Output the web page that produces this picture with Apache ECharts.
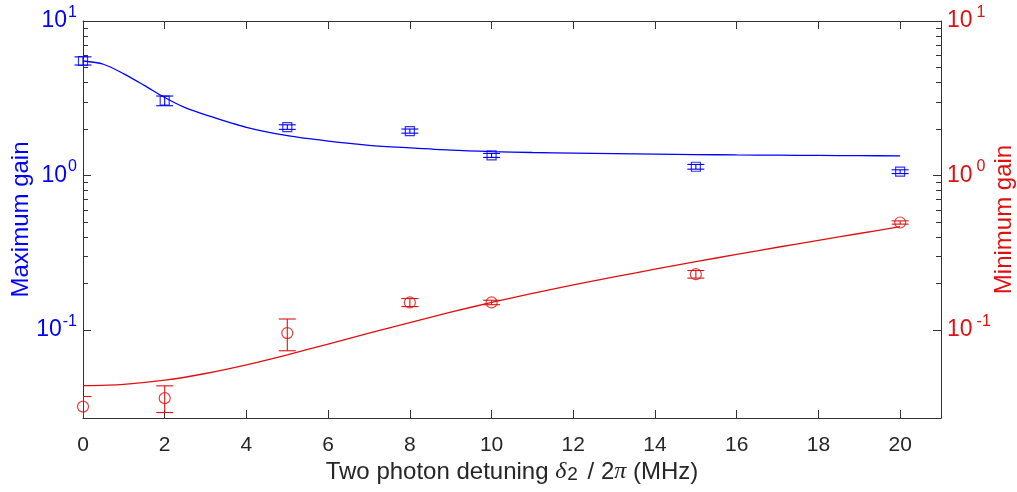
<!DOCTYPE html>
<html><head><meta charset="utf-8">
<script src="https://cdn.jsdelivr.net/npm/echarts@6/dist/echarts.min.js"></script>
<style>html,body{margin:0;padding:0;background:#fff}#c{width:1017px;height:492px}</style>
</head><body><div id="c"></div>
<script>
// ---- data ----
const detuning    = [0, 2, 5, 8, 10, 15, 20];
const maxGain     = [5.51, 3.05, 2.06, 1.94, 1.35, 1.14, 1.06];
const maxGainLow  = [5.19, 2.83, 1.99, 1.88, 1.31, 1.10, 1.03];
const maxGainHigh = [5.86, 3.27, 2.13, 2.00, 1.39, 1.18, 1.09];
const minGain     = [0.032, 0.0363, 0.0957, 0.151, 0.151, 0.230, 0.497];
const minGainLow  = [0.020, 0.0293, 0.0735, 0.142, 0.146, 0.217, 0.485];
const minGainHigh = [0.0372, 0.0436, 0.118, 0.160, 0.156, 0.243, 0.509];
const maxFitX = [0, 0.5, 1, 1.5, 2, 2.5, 3, 4, 5, 6, 7, 8, 9, 10, 11, 12, 13, 14, 15, 16, 17, 18, 19, 20];
const maxFit  = [5.51, 5.25, 4.55, 3.83, 3.20, 2.75, 2.47, 2.05, 1.81, 1.67, 1.57, 1.51, 1.46, 1.43, 1.41, 1.395, 1.385, 1.375, 1.367, 1.36, 1.355, 1.35, 1.345, 1.34];
const minFitX = [0, 1, 2, 3, 4, 5, 6, 7, 8, 9, 10, 11, 12, 13, 14, 15, 16, 17, 18, 19, 20];
const minFit  = [0.0437, 0.0446, 0.0474, 0.0524, 0.0596, 0.0692, 0.0813, 0.0955, 0.112, 0.1306, 0.151, 0.1726, 0.1959, 0.2208, 0.2477, 0.2773, 0.309, 0.3436, 0.381, 0.4217, 0.4667];
const xTicks = [0, 2, 4, 6, 8, 10, 12, 14, 16, 18, 20];
const yMajorTicks = [0.1, 1, 10];
const yMinorTicks = [0.2, 0.3, 0.4, 0.5, 0.6, 0.7, 0.8, 0.9, 2, 3, 4, 5, 6, 7, 8, 9];
const yRange = [0.027, 10];
const xRange = [0, 21];

const BLUE = '#0000ff', RED = '#e01010', AX = '#333333', TXT = '#262626';
const FONT = 'Liberation Sans, Arial, Helvetica, sans-serif';
const L = v => Math.log10(v);
const yMin = L(yRange[0]), yMax = L(yRange[1]);

function yAxisDef(pos, color, major, name) {
  const gap = pos === 'right' ? 4 : 1;
  const a = {
    type: 'value', position: pos, min: yMin, max: yMax,
    splitLine: { show: false },
    axisLine: { show: major, onZero: false, lineStyle: { color: AX, width: 1 } },
    axisTick: { show: true, inside: true, length: major ? 8 : 5,
      customValues: (major ? yMajorTicks : yMinorTicks).map(L),
      lineStyle: { color: AX, width: 1 } },
    axisLabel: { show: major, customValues: yMajorTicks.map(L), margin: 6,
      formatter: v => '{b|10}{s|' + Math.round(v) + '}',
      rich: {
        b: { fontSize: 23, lineHeight: 23, color: color, fontFamily: FONT, verticalAlign: 'bottom' },
        s: { fontSize: 16, lineHeight: 16, color: color, fontFamily: FONT, verticalAlign: 'bottom',
             padding: [0, 0, 12, gap] }
      } }
  };
  if (major) {
    a.name = name; a.nameLocation = 'middle'; a.nameRotate = 90; a.nameMoveOverlap = false;
    a.nameGap = pos === 'right' ? 51 : 50;
    a.nameTextStyle = { color: color, fontSize: 24, fontFamily: FONT };
  }
  return a;
}

function xAxisDef(pos, labels) {
  const a = {
    type: 'value', position: pos, min: xRange[0], max: xRange[1],
    splitLine: { show: false },
    axisLine: { show: true, onZero: false, lineStyle: { color: AX, width: 1 } },
    axisTick: { show: true, inside: true, length: 8, customValues: xTicks, lineStyle: { color: AX } },
    axisLabel: { show: labels, customValues: xTicks, margin: 17, fontSize: 21, color: TXT, fontFamily: FONT }
  };
  if (labels) {
    a.name = '{n|Two photon detuning }{i|δ}{sub|2}{n| / 2}{i|π}{n| (MHz)}';
    a.nameLocation = 'middle'; a.nameGap = 38; a.nameMoveOverlap = false;
    a.nameTextStyle = {
      rich: {
        n: { fontSize: 24, lineHeight: 28, color: TXT, fontFamily: FONT, verticalAlign: 'bottom' },
        i: { fontSize: 24, lineHeight: 28, color: TXT, fontFamily: 'Liberation Serif, Times New Roman, serif', fontStyle: 'italic', verticalAlign: 'bottom' },
        sub: { fontSize: 19, lineHeight: 19, color: TXT, fontFamily: FONT, verticalAlign: 'bottom', padding: [22, 3, 0, 1] }
      }
    };
  }
  return a;
}

function errBar(color) {
  return function (params, api) {
    const x = api.value(0);
    const lo = api.coord([x, api.value(1)]);
    const hi = api.coord([x, api.value(2)]);
    const w = 8.5;
    const st = { stroke: color, lineWidth: 1.1 };
    return { type: 'group', children: [
      { type: 'line', shape: { x1: lo[0], y1: lo[1], x2: hi[0], y2: hi[1] }, style: st },
      { type: 'line', shape: { x1: lo[0] - w, y1: lo[1], x2: lo[0] + w, y2: lo[1] }, style: st },
      { type: 'line', shape: { x1: hi[0] - w, y1: hi[1], x2: hi[0] + w, y2: hi[1] }, style: st }
    ] };
  };
}

const zip = (xs, ys) => xs.map((x, i) => [x, L(ys[i])]);

const option = {
  animation: false,
  backgroundColor: '#ffffff',
  grid: { left: 83, right: 76, top: 21, bottom: 74, containLabel: false, outerBoundsMode: 'none' },
  xAxis: [xAxisDef('bottom', true), xAxisDef('top', false)],
  yAxis: [
    yAxisDef('left', BLUE, true, 'Maximum gain'),
    yAxisDef('right', RED, true, 'Minimum gain'),
    yAxisDef('left', BLUE, false),
    yAxisDef('right', RED, false)
  ],
  series: [
    { type: 'line', data: zip(maxFitX, maxFit), smooth: 0.3, showSymbol: false, xAxisIndex: 0, yAxisIndex: 0,
      lineStyle: { color: BLUE, width: 1.3 }, z: 2 },
    { type: 'line', data: zip(minFitX, minFit), smooth: 0.3, showSymbol: false, xAxisIndex: 0, yAxisIndex: 1,
      lineStyle: { color: RED, width: 1.3 }, z: 2 },
    { type: 'custom', xAxisIndex: 0, yAxisIndex: 0, clip: false, renderItem: errBar(BLUE),
      data: detuning.map((x, i) => [x, L(maxGainLow[i]), L(maxGainHigh[i])]), z: 3 },
    { type: 'custom', xAxisIndex: 0, yAxisIndex: 1, clip: true, renderItem: errBar(RED),
      data: detuning.map((x, i) => [x, L(minGainLow[i]), L(minGainHigh[i])]), z: 3 },
    { type: 'scatter', xAxisIndex: 0, yAxisIndex: 0, data: zip(detuning, maxGain), symbol: 'rect', symbolSize: 9,
      itemStyle: { color: 'none', borderColor: BLUE, borderWidth: 1.2 }, z: 4 },
    { type: 'scatter', xAxisIndex: 0, yAxisIndex: 1, data: zip(detuning, minGain), symbol: 'circle', symbolSize: 11,
      itemStyle: { color: 'none', borderColor: RED, borderWidth: 1.2 }, z: 4 }
  ]
};
echarts.init(document.getElementById('c'), null, { renderer: 'canvas' }).setOption(option);
</script></body></html>
